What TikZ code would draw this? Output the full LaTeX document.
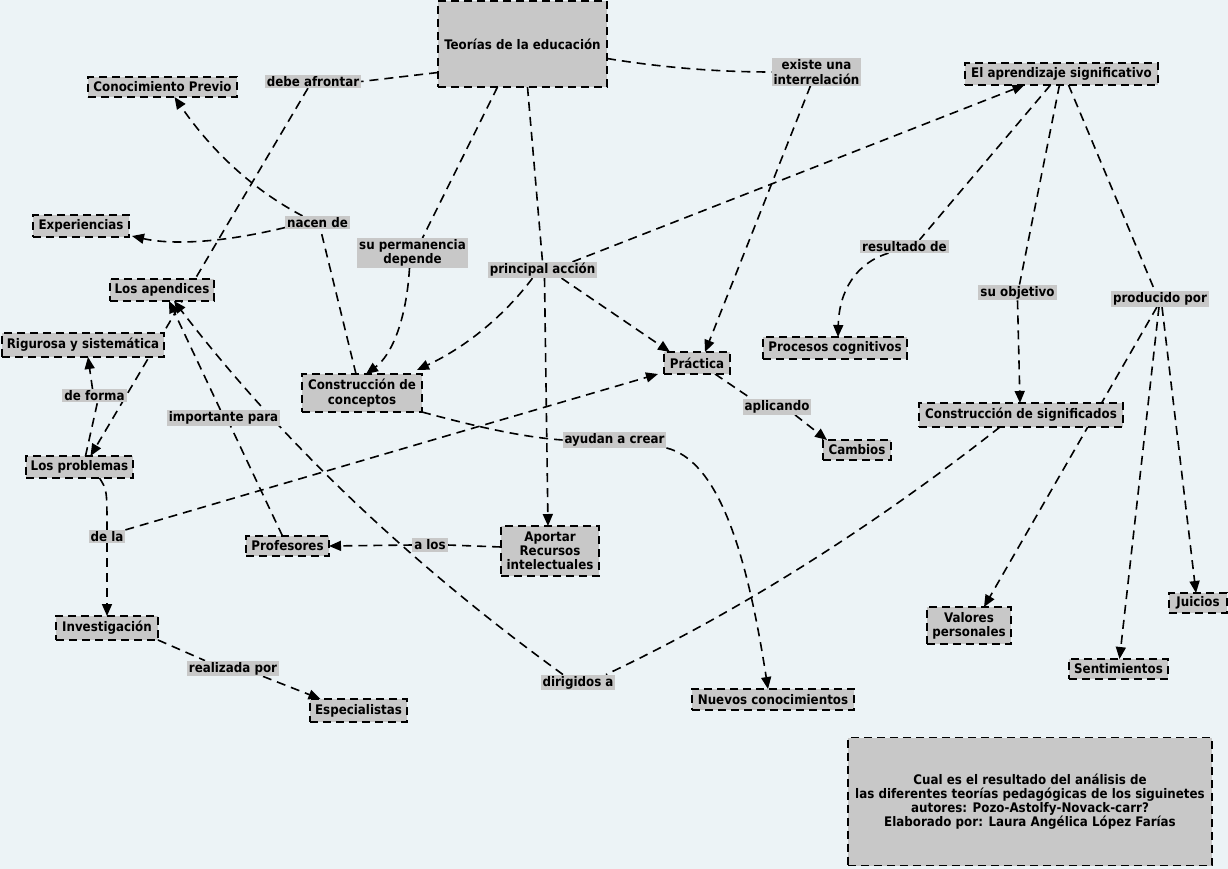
\documentclass[tikz,border=0pt]{standalone}
\usepackage{fontspec}
\setmainfont{DejaVu Sans Condensed}
\usetikzlibrary{arrows.meta}
\pgfdeclarelayer{bg}
\pgfdeclarelayer{edges}
\pgfsetlayers{bg,edges,main}
\definecolor{bgc}{RGB}{236,243,246}
\definecolor{boxc}{RGB}{200,200,200}
\tikzset{
  txt/.style={font=\bfseries\fontsize{13.2}{14.2}\selectfont, align=center, text=black},
  concept/.style={txt, draw=black, fill=boxc, line width=1.8pt, dash pattern=on 8pt off 5pt, inner sep=0pt, outer sep=0pt},
  link/.style={txt, fill=boxc, inner xsep=2pt, inner ysep=1.5pt, outer sep=0pt},
  conn/.style={draw=black, line width=1.6pt, dash pattern=on 9pt off 6pt},
  arr/.style={conn, -{Triangle[length=12pt,width=10pt]}}
}
\begin{document}
\begin{tikzpicture}[x=1pt,y=-1pt]
\useasboundingbox (0,0) rectangle (1228,869);
\begin{pgfonlayer}{bg}
\fill[bgc] (0,0) rectangle (1228,869);
\end{pgfonlayer}

% concepts
\node[concept, minimum width=169pt, minimum height=86pt] (teo) at (522.5,44) {Teorías de la educación};
\node[concept, minimum width=149pt, minimum height=20pt] (cp) at (162.5,87) {Conocimiento Previo};
\node[concept, minimum width=96pt, minimum height=22pt] (exp) at (81,226) {Experiencias};
\node[concept, minimum width=104pt, minimum height=22pt] (apen) at (162,290) {Los apendices};
\node[concept, minimum width=162pt, minimum height=24pt] (rig) at (83,345) {Rigurosa y sistemática};
\node[concept, minimum width=107pt, minimum height=22pt] (prob) at (79.5,467) {Los problemas};
\node[concept, minimum width=102pt, minimum height=24pt] (inv) at (107,628) {Investigación};
\node[concept, minimum width=97pt, minimum height=23pt] (esp) at (358.5,710.5) {Especialistas};
\node[concept, minimum width=83pt, minimum height=20pt] (prof) at (287.5,546) {Profesores};
\node[concept, minimum width=120pt, minimum height=38pt] (cc) at (362,393) {Construcción de\\conceptos};
\node[concept, minimum width=98pt, minimum height=50pt] (apo) at (550,551) {Aportar\\Recursos\\intelectuales};
\node[concept, minimum width=66pt, minimum height=22pt] (prac) at (697,363) {Práctica};
\node[concept, minimum width=144pt, minimum height=22pt] (proc) at (835,348) {Procesos cognitivos};
\node[concept, minimum width=68pt, minimum height=20pt] (camb) at (857,450) {Cambios};
\node[concept, minimum width=204pt, minimum height=24pt] (cs) at (1021,415) {Construcción de significados};
\node[concept, minimum width=84pt, minimum height=37pt] (val) at (969,625.5) {Valores\\personales};
\node[concept, minimum width=99pt, minimum height=20pt] (sent) at (1118.5,669) {Sentimientos};
\node[concept, minimum width=58pt, minimum height=20pt] (jui) at (1198,603) {Juicios};
\node[concept, minimum width=162pt, minimum height=21pt] (nue) at (773,699.5) {Nuevos conocimientos};
\node[concept, minimum width=193pt, minimum height=22pt] (ap) at (1061.5,74) {El aprendizaje significativo};
\node[concept, minimum width=364pt, minimum height=128pt] (title) at (1030,801.5) {Cual es el resultado del análisis de\\las diferentes teorías pedagógicas de los siguinetes\\autores: Pozo-Astolfy-Novack-carr?\\Elaborado por: Laura Angélica López Farías};

% linking phrases
\node[link] (l1) at (313,81.5) {debe afrontar};
\node[link] (l2) at (317.5,222.5) {nacen de};
\node[link] (l3) at (412.5,253) {su permanencia\\depende};
\node[link] (l4) at (542.5,270) {principal acción};
\node[link] (l5) at (816.5,72) {existe una\\interrelación};
\node[link] (l6) at (904.5,246.5) {resultado de};
\node[link] (l7) at (1017.5,292.5) {su objetivo};
\node[link] (l8) at (1160,299) {producido por};
\node[link] (l9) at (94.5,395.5) {de forma};
\node[link] (l10) at (223.5,418) {importante para};
\node[link] (l11) at (614.5,440) {ayudan a crear};
\node[link] (l12) at (107,536.5) {de la};
\node[link] (l13) at (430,545) {a los};
\node[link] (l14) at (233,668.5) {realizada por};
\node[link] (l15) at (578,682.5) {dirigidos a};
\node[link] (l16) at (777,407) {aplicando};

\begin{pgfonlayer}{edges}
\draw[conn] ([yshift=-28.5pt]teo.west) -- (l1.east);
\draw[arr] ([xshift=-5pt]l1.south) -- ([xshift=11pt]prob.north);
\draw[conn] ([xshift=-6pt]cc.north) -- ([xshift=3pt]l2.south);
\draw[arr] ([xshift=-15pt]l2.north) .. controls (255,191) and (213,153) .. ([xshift=12pt]cp.south);
\draw[arr] ([yshift=-5pt]l2.west) .. controls (222,243) and (171,245) .. ([xshift=3pt,yshift=-10pt]exp.east);
\draw[conn] ([xshift=-25pt]teo.south) -- ([xshift=10pt]l3.north);
\draw[arr] ([xshift=-3pt]l3.south) .. controls (406.5,319) and (392,355) .. ([xshift=4pt]cc.north);
\draw[conn] ([xshift=5pt]teo.south) -- (l4.north);
\draw[arr] ([xshift=-10pt]l4.south) .. controls (504,316) and (466,347) .. ([xshift=-5pt,yshift=4pt]cc.north east);
\draw[arr] ([xshift=19pt]l4.south) -- ([xshift=-27pt]prac.north);
\draw[arr] ([xshift=2pt]l4.south) -- ([xshift=-2pt]apo.north);
\draw[arr] ([xshift=30pt]l4.north) -- ([xshift=-37pt]ap.south);
\draw[conn] ([yshift=-14.5pt]teo.east) .. controls (659,67) and (714,72) .. (l5.west);
\draw[arr] ([xshift=-6pt]l5.south) -- ([xshift=8pt]prac.north);
\draw[conn] ([xshift=-11pt]ap.south) -- ([xshift=15pt]l6.north);
\draw[arr] ([xshift=-16pt]l6.south) .. controls (856,263) and (839,291) .. ([xshift=3pt]proc.north);
\draw[conn] ([xshift=-2pt]ap.south) -- ([xshift=2pt]l7.north);
\draw[arr] (l7.south) -- ([xshift=-1pt]cs.north);
\draw[conn] ([xshift=7pt]ap.south) -- ([xshift=-5pt]l8.north);
\draw[arr] ([xshift=-3pt]l8.south) -- ([xshift=15pt]val.north);
\draw[arr] ([xshift=-1pt]l8.south) -- ([xshift=1pt]sent.north);
\draw[arr] ([xshift=2pt]l8.south) -- ([xshift=-2pt]jui.north);
\draw[conn] ([xshift=-21pt]cs.south) .. controls (866,532) and (734,614) .. ([xshift=28pt]l15.north);
\draw[arr] ([xshift=-15pt]l15.north) .. controls (412,565) and (283,443) .. ([xshift=12pt]apen.south);
\draw[arr] ([xshift=-3pt]l10.north) -- ([xshift=7pt]apen.south);
\draw[conn] ([xshift=-5pt]prof.north) -- ([xshift=7pt]l10.south);
\draw[conn] ([yshift=4pt]apo.west) -- (l13.east);
\draw[arr] (l13.west) -- (prof.east);
\draw[conn] (cc.south east) .. controls (470,425) and (520,437) .. (l11.west);
\draw[arr] (l11.south east) .. controls (715,460) and (745,540) .. ([xshift=-5pt]nue.north);
\draw[arr] (l12.north east) -- ([xshift=-6pt]prac.south west);
\draw[conn] ([xshift=20pt]prob.south) .. controls (107,490) .. (l12.north);
\draw[arr] (l12.south) -- (inv.north);
\draw[conn] (inv.south east) -- ([xshift=-28pt]l14.north);
\draw[arr] ([xshift=30pt]l14.south) -- ([xshift=-38pt]esp.north);
\draw[conn] ([xshift=6pt]prob.north) -- ([xshift=3pt]l9.south);
\draw[arr] ([xshift=-2pt]l9.north) -- ([xshift=5pt]rig.south);
\draw[conn] ([xshift=18pt]prac.south) -- ([xshift=-25pt]l16.north);
\draw[arr] ([xshift=18pt]l16.south) -- ([xshift=-30pt]camb.north);
\end{pgfonlayer}
\end{tikzpicture}
\end{document}
